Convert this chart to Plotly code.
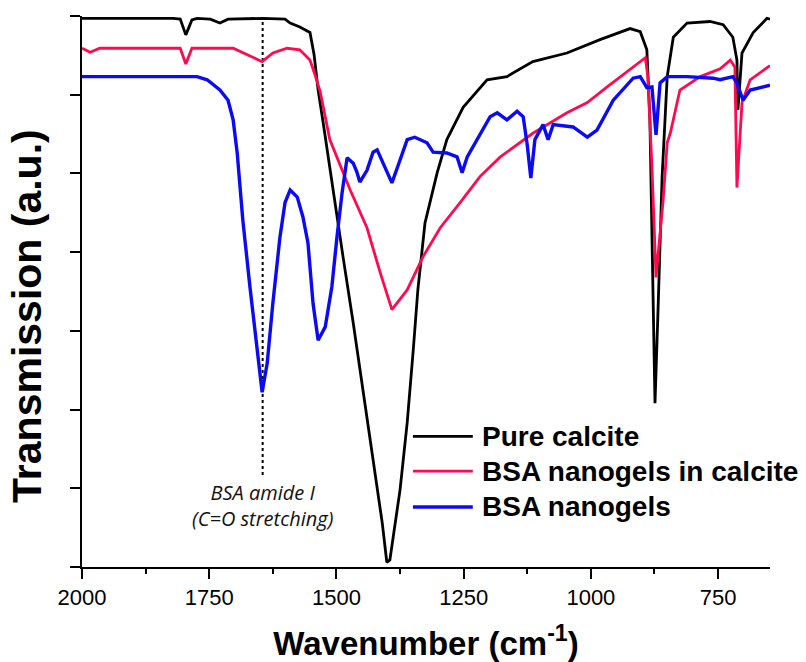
import plotly.graph_objects as go

# FTIR spectra (transmission, arbitrary units) vs wavenumber (cm-1)
calcite_wn = [2000, 1821, 1807, 1796, 1784, 1774, 1748, 1729, 1713, 1644, 1601, 1591,
              1572, 1552, 1544, 1536, 1526, 1507, 1487, 1467, 1448, 1428, 1410, 1401,
              1395, 1375, 1361, 1349, 1340, 1326, 1302, 1283, 1251, 1204, 1165, 1114,
              1047, 982, 923, 903, 890, 884, 878, 874, 868, 860, 850, 838, 811, 766,
              740, 721, 713, 711, 703, 681, 654, 648]
calcite_t = [6.97, 6.97, 6.96, 6.76, 6.95, 6.97, 6.96, 6.91, 6.96, 6.97, 6.96, 6.91,
             6.86, 6.79, 6.51, 6.06, 5.64, 4.79, 3.94, 3.10, 2.25, 1.40, 0.56, 0.06,
             0.09, 0.98, 1.83, 2.76, 3.52, 4.37, 5.01, 5.43, 5.84, 6.19, 6.23, 6.42,
             6.53, 6.70, 6.84, 6.80, 6.57, 5.68, 3.27, 2.08, 3.27, 4.96, 6.23, 6.73,
             6.91, 6.93, 6.89, 6.73, 6.44, 5.81, 6.53, 6.79, 6.97, 6.96]

composite_wn = [2000, 1984, 1965, 1807, 1796, 1784, 1703, 1676, 1646, 1625, 1597, 1572,
                1552, 1542, 1532, 1513, 1473, 1440, 1414, 1391, 1361, 1330, 1296, 1257,
                1218, 1178, 1114, 1047, 1007, 968, 917, 893, 888, 880, 872, 858, 850,
                844, 825, 785, 746, 726, 717, 713, 703, 687, 648]
composite_t = [6.59, 6.54, 6.59, 6.59, 6.39, 6.59, 6.59, 6.51, 6.42, 6.53, 6.59, 6.57,
               6.44, 6.25, 6.04, 5.43, 4.79, 4.31, 3.74, 3.27, 3.52, 3.94, 4.31, 4.63,
               4.96, 5.21, 5.51, 5.77, 5.90, 6.10, 6.35, 6.47, 6.23, 5.08, 3.68, 4.66,
               5.39, 5.51, 6.06, 6.23, 6.33, 6.44, 6.35, 4.82, 5.90, 6.19, 6.37]

nanogel_wn = [2000, 1774, 1754, 1729, 1713, 1703, 1695, 1684, 1670, 1656, 1646, 1636,
              1625, 1611, 1601, 1591, 1577, 1566, 1556, 1546, 1536, 1522, 1509, 1499,
              1489, 1479, 1467, 1460, 1454, 1440, 1428, 1420, 1408, 1391, 1375, 1361,
              1346, 1322, 1310, 1283, 1263, 1253, 1243, 1224, 1198, 1184, 1165, 1145,
              1133, 1125, 1118, 1110, 1094, 1084, 1074, 1035, 1007, 988, 956, 917,
              903, 890, 880, 872, 864, 850, 811, 760, 746, 721, 713, 701, 687, 648]
nanogel_t = [6.23, 6.23, 6.19, 6.06, 5.93, 5.68, 5.26, 4.41, 3.56, 2.72, 2.22, 2.59,
             3.35, 4.19, 4.63, 4.79, 4.70, 4.45, 4.12, 3.35, 2.88, 3.05, 3.56, 4.19,
             4.75, 5.20, 5.13, 5.02, 4.89, 5.04, 5.27, 5.30, 5.13, 4.88, 5.17, 5.43,
             5.46, 5.39, 5.27, 5.26, 5.21, 5.01, 5.21, 5.43, 5.72, 5.77, 5.68, 5.79,
             5.72, 5.36, 4.94, 5.43, 5.62, 5.43, 5.62, 5.59, 5.46, 5.55, 5.93, 6.21,
             6.23, 6.09, 6.10, 5.49, 6.15, 6.23, 6.23, 6.21, 6.19, 6.23, 6.15, 5.93,
             6.06, 6.12]

series_names = ["Pure calcite", "BSA nanogels in calcite", "BSA nanogels"]
series_colors = ["#000000", "#FF0A4E", "#0A0AF5"]
series_widths = [2.8, 2.8, 3.4]
x_ticks = [2000, 1750, 1500, 1250, 1000, 750]
y_ticks = [0, 1, 2, 3, 4, 5, 6, 7]

# amide I marker line
amide_wn = 1645
amide_span = [1.17, 6.95]
amide_label = "<i>BSA amide I<br>(C=O stretching)</i>"

fig = go.Figure()

fig.add_trace(go.Scatter(x=[amide_wn, amide_wn], y=amide_span, mode="lines",
                         line=dict(color="black", width=2, dash="dot"),
                         showlegend=False, hoverinfo="skip"))

for name, xs, ys, col, w in zip(series_names,
                                [calcite_wn, composite_wn, nanogel_wn],
                                [calcite_t, composite_t, nanogel_t],
                                series_colors, series_widths):
    fig.add_trace(go.Scatter(x=xs, y=ys, mode="lines", name=name,
                             line=dict(color=col, width=w), showlegend=False))

fig.add_annotation(x=amide_wn, y=0.78, xref="x", yref="y", text=amide_label,
                   showarrow=False, xanchor="center", yanchor="middle",
                   font=dict(family="Open Sans", size=20, color="#111"))

# legend key: long line swatches with bold labels, inside the axes
legend_rows_y = [0.237, 0.174, 0.109]
for name, col, w, ly in zip(series_names, series_colors, series_widths, legend_rows_y):
    fig.add_shape(type="line", xref="paper", yref="paper",
                  x0=0.481, x1=0.568, y0=ly, y1=ly,
                  line=dict(color=col, width=w))
    fig.add_annotation(x=0.578, y=ly, xref="paper", yref="paper", text=name,
                       showarrow=False, xanchor="left", yanchor="middle",
                       font=dict(family="Arial, Liberation Sans", size=28,
                                 weight="bold", color="black"))

# y-axis title
fig.add_annotation(x=-0.079, y=0.455, xref="paper", yref="paper",
                   text="Transmission (a.u.)", textangle=-90, showarrow=False,
                   xanchor="center", yanchor="middle",
                   font=dict(family="Arial, Liberation Sans", size=41,
                             weight="bold", color="black"))

fig.update_layout(
    width=806, height=662,
    margin=dict(l=82, r=36, t=16, b=95, autoexpand=False),
    plot_bgcolor="white", paper_bgcolor="white",
    font=dict(family="Arial, Liberation Sans", color="black"),
    showlegend=False,
    xaxis=dict(range=[2000, 648], tickvals=x_ticks,
               ticks="outside", ticklen=10, tickwidth=2, tickcolor="black",
               minor=dict(dtick=125, tick0=2000, ticks="outside", ticklen=5,
                          tickwidth=2, tickcolor="black"),
               showline=True, linecolor="black", linewidth=2,
               showgrid=False, zeroline=False,
               tickfont=dict(size=22, color="black"),
               title=dict(text="Wavenumber (cm<sup>-1</sup>)", standoff=30,
                          font=dict(size=33, weight="bold"))),
    yaxis=dict(range=[0, 7], tickvals=y_ticks, showticklabels=False,
               ticks="outside", ticklen=10, tickwidth=2, tickcolor="black",
               showline=True, linecolor="black", linewidth=2,
               showgrid=False, zeroline=False),
)

fig.write_html("out.html")
